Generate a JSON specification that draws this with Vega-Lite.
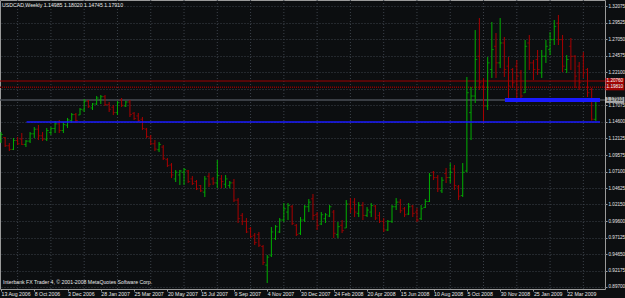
{
"$schema":"https://vega.github.io/schema/vega-lite/v6.json",
"width":605,"height":289,
"autosize":{"type":"none"},
"padding":{"left":0,"top":0,"right":20,"bottom":9},
"background":"#0c0e10",
"config":{"view":{"stroke":"#9a9a9a","strokeWidth":1,"fill":"#0c0e10"},"font":"Liberation Sans","axis":{"labelOverlap":false,"labelFlush":false,"labelBound":false,"labelSeparation":0},"axisY":{"labelOverlap":false},"axisRight":{"labelOverlap":false},"axisQuantitative":{"labelOverlap":false}},
"datasets":{
"bars":[
{"d":"2006-08-13","o":1.117,"h":1.1307,"l":1.1141,"c":1.127},
{"d":"2006-08-20","o":1.1225,"h":1.1232,"l":1.1081,"c":1.11},
{"d":"2006-08-27","o":1.11,"h":1.1141,"l":1.102,"c":1.1045},
{"d":"2006-09-03","o":1.1045,"h":1.1217,"l":1.1035,"c":1.118},
{"d":"2006-09-10","o":1.118,"h":1.1232,"l":1.1111,"c":1.113},
{"d":"2006-09-17","o":1.12,"h":1.1292,"l":1.1111,"c":1.112},
{"d":"2006-09-24","o":1.112,"h":1.1186,"l":1.1081,"c":1.117},
{"d":"2006-10-01","o":1.117,"h":1.1307,"l":1.1141,"c":1.128},
{"d":"2006-10-08","o":1.128,"h":1.1383,"l":1.1217,"c":1.135},
{"d":"2006-10-15","o":1.135,"h":1.1413,"l":1.1186,"c":1.125},
{"d":"2006-10-22","o":1.125,"h":1.1307,"l":1.1171,"c":1.12},
{"d":"2006-10-29","o":1.12,"h":1.1368,"l":1.1171,"c":1.133},
{"d":"2006-11-05","o":1.13,"h":1.1383,"l":1.1262,"c":1.136},
{"d":"2006-11-12","o":1.136,"h":1.1473,"l":1.1292,"c":1.143},
{"d":"2006-11-19","o":1.143,"h":1.1488,"l":1.1292,"c":1.133},
{"d":"2006-11-26","o":1.133,"h":1.1458,"l":1.1292,"c":1.142},
{"d":"2006-12-03","o":1.141,"h":1.1519,"l":1.1368,"c":1.149},
{"d":"2006-12-10","o":1.148,"h":1.1594,"l":1.1443,"c":1.157},
{"d":"2006-12-17","o":1.157,"h":1.1594,"l":1.1443,"c":1.148},
{"d":"2006-12-24","o":1.1565,"h":1.1669,"l":1.1563,"c":1.165},
{"d":"2006-12-31","o":1.164,"h":1.1805,"l":1.1609,"c":1.177},
{"d":"2007-01-07","o":1.177,"h":1.179,"l":1.1669,"c":1.169},
{"d":"2007-01-14","o":1.167,"h":1.1744,"l":1.1639,"c":1.173},
{"d":"2007-01-21","o":1.173,"h":1.185,"l":1.1714,"c":1.182},
{"d":"2007-01-28","o":1.179,"h":1.1865,"l":1.1729,"c":1.184},
{"d":"2007-02-04","o":1.184,"h":1.1865,"l":1.1699,"c":1.172},
{"d":"2007-02-11","o":1.172,"h":1.176,"l":1.1609,"c":1.165},
{"d":"2007-02-18","o":1.168,"h":1.1714,"l":1.1563,"c":1.16},
{"d":"2007-02-25","o":1.16,"h":1.1775,"l":1.1563,"c":1.175},
{"d":"2007-03-04","o":1.179,"h":1.182,"l":1.1684,"c":1.171},
{"d":"2007-03-11","o":1.17,"h":1.1775,"l":1.1684,"c":1.176},
{"d":"2007-03-18","o":1.176,"h":1.179,"l":1.1533,"c":1.157},
{"d":"2007-03-25","o":1.159,"h":1.1609,"l":1.1488,"c":1.151},
{"d":"2007-04-01","o":1.155,"h":1.1594,"l":1.1458,"c":1.148},
{"d":"2007-04-08","o":1.15,"h":1.1533,"l":1.1337,"c":1.136},
{"d":"2007-04-15","o":1.135,"h":1.1368,"l":1.1217,"c":1.124},
{"d":"2007-04-22","o":1.123,"h":1.1262,"l":1.1111,"c":1.113},
{"d":"2007-04-29","o":1.113,"h":1.1186,"l":1.102,"c":1.105},
{"d":"2007-05-06","o":1.104,"h":1.1156,"l":1.1005,"c":1.112},
{"d":"2007-05-13","o":1.108,"h":1.1111,"l":1.0885,"c":1.091},
{"d":"2007-05-20","o":1.089,"h":1.0915,"l":1.0779,"c":1.08},
{"d":"2007-05-27","o":1.081,"h":1.0839,"l":1.0613,"c":1.066},
{"d":"2007-06-03","o":1.06,"h":1.0734,"l":1.0553,"c":1.07},
{"d":"2007-06-10","o":1.066,"h":1.0734,"l":1.0508,"c":1.072},
{"d":"2007-06-17","o":1.07,"h":1.0764,"l":1.0508,"c":1.074},
{"d":"2007-06-24","o":1.072,"h":1.0734,"l":1.0538,"c":1.056},
{"d":"2007-07-01","o":1.06,"h":1.0643,"l":1.0508,"c":1.053},
{"d":"2007-07-08","o":1.056,"h":1.0583,"l":1.0432,"c":1.045},
{"d":"2007-07-15","o":1.05,"h":1.0508,"l":1.0402,"c":1.042},
{"d":"2007-07-22","o":1.04,"h":1.0643,"l":1.0327,"c":1.06},
{"d":"2007-07-29","o":1.064,"h":1.0688,"l":1.0477,"c":1.052},
{"d":"2007-08-05","o":1.06,"h":1.0628,"l":1.0508,"c":1.054},
{"d":"2007-08-12","o":1.054,"h":1.0885,"l":1.0462,"c":1.065},
{"d":"2007-08-19","o":1.06,"h":1.0658,"l":1.0462,"c":1.056},
{"d":"2007-08-26","o":1.052,"h":1.0658,"l":1.0462,"c":1.06},
{"d":"2007-09-02","o":1.05,"h":1.0568,"l":1.0462,"c":1.054},
{"d":"2007-09-09","o":1.054,"h":1.0598,"l":1.0251,"c":1.028},
{"d":"2007-09-16","o":1.028,"h":1.0311,"l":0.9935,"c":1.0},
{"d":"2007-09-23","o":1.005,"h":1.0085,"l":0.9904,"c":0.996},
{"d":"2007-09-30","o":0.996,"h":1.001,"l":0.9784,"c":0.98},
{"d":"2007-10-07","o":0.985,"h":0.9874,"l":0.9708,"c":0.973},
{"d":"2007-10-14","o":0.975,"h":0.9784,"l":0.9603,"c":0.964},
{"d":"2007-10-21","o":0.976,"h":0.9799,"l":0.9573,"c":0.96},
{"d":"2007-10-28","o":0.958,"h":0.9603,"l":0.9301,"c":0.934},
{"d":"2007-11-04","o":0.93,"h":0.9452,"l":0.903,"c":0.942},
{"d":"2007-11-11","o":0.945,"h":0.9874,"l":0.9422,"c":0.98},
{"d":"2007-11-18","o":0.97,"h":0.9904,"l":0.9678,"c":0.988},
{"d":"2007-11-25","o":0.98,"h":1.001,"l":0.9784,"c":0.998},
{"d":"2007-12-02","o":0.998,"h":1.0236,"l":0.995,"c":1.015},
{"d":"2007-12-09","o":1.01,"h":1.0236,"l":0.998,"c":1.02},
{"d":"2007-12-16","o":1.018,"h":1.0206,"l":0.9904,"c":0.993},
{"d":"2007-12-23","o":0.99,"h":0.9919,"l":0.9739,"c":0.976},
{"d":"2007-12-30","o":0.978,"h":1.0025,"l":0.9754,"c":0.998},
{"d":"2008-01-06","o":0.998,"h":1.0206,"l":0.995,"c":1.018},
{"d":"2008-01-13","o":1.018,"h":1.0296,"l":1.01,"c":1.025},
{"d":"2008-01-20","o":1.03,"h":1.0372,"l":0.998,"c":1.005},
{"d":"2008-01-27","o":1.006,"h":1.01,"l":0.9829,"c":0.99},
{"d":"2008-02-03","o":0.992,"h":1.01,"l":0.9904,"c":1.006},
{"d":"2008-02-10","o":1.0,"h":1.0085,"l":0.9935,"c":1.006},
{"d":"2008-02-17","o":1.004,"h":1.0206,"l":1.0025,"c":1.018},
{"d":"2008-02-24","o":1.01,"h":1.0131,"l":0.9708,"c":0.978},
{"d":"2008-03-02","o":0.976,"h":0.995,"l":0.9708,"c":0.988},
{"d":"2008-03-09","o":0.99,"h":0.998,"l":0.9784,"c":0.982},
{"d":"2008-03-16","o":0.986,"h":1.0281,"l":0.9859,"c":1.022},
{"d":"2008-03-23","o":1.022,"h":1.0311,"l":1.0085,"c":1.015},
{"d":"2008-03-30","o":1.025,"h":1.0311,"l":1.0025,"c":1.01},
{"d":"2008-04-06","o":1.008,"h":1.0251,"l":1.0025,"c":1.02},
{"d":"2008-04-13","o":1.02,"h":1.0251,"l":0.998,"c":1.005},
{"d":"2008-04-20","o":1.005,"h":1.0176,"l":1.0025,"c":1.013},
{"d":"2008-04-27","o":1.01,"h":1.0236,"l":1.0025,"c":1.02},
{"d":"2008-05-04","o":1.019,"h":1.0206,"l":0.998,"c":1.001},
{"d":"2008-05-11","o":1.005,"h":1.01,"l":0.9935,"c":0.996},
{"d":"2008-05-18","o":0.996,"h":1.001,"l":0.9799,"c":0.983},
{"d":"2008-05-25","o":0.983,"h":0.998,"l":0.9814,"c":0.996},
{"d":"2008-06-01","o":0.996,"h":1.0206,"l":0.9935,"c":1.018},
{"d":"2008-06-08","o":1.018,"h":1.0311,"l":1.0131,"c":1.025},
{"d":"2008-06-15","o":1.025,"h":1.0296,"l":1.0085,"c":1.012},
{"d":"2008-06-22","o":1.015,"h":1.0176,"l":1.0025,"c":1.006},
{"d":"2008-06-29","o":1.007,"h":1.0236,"l":1.0055,"c":1.018},
{"d":"2008-07-06","o":1.019,"h":1.0206,"l":1.0025,"c":1.008},
{"d":"2008-07-13","o":1.01,"h":1.0161,"l":0.995,"c":0.998},
{"d":"2008-07-20","o":1.0,"h":1.0206,"l":0.998,"c":1.015},
{"d":"2008-07-27","o":1.017,"h":1.0296,"l":1.0161,"c":1.026},
{"d":"2008-08-03","o":1.026,"h":1.0688,"l":1.0251,"c":1.065},
{"d":"2008-08-10","o":1.07,"h":1.0719,"l":1.0583,"c":1.062},
{"d":"2008-08-17","o":1.062,"h":1.0658,"l":1.0402,"c":1.045},
{"d":"2008-08-24","o":1.042,"h":1.0628,"l":1.0387,"c":1.058},
{"d":"2008-08-31","o":1.068,"h":1.0764,"l":1.0538,"c":1.062},
{"d":"2008-09-07","o":1.062,"h":1.0839,"l":1.0538,"c":1.07},
{"d":"2008-09-14","o":1.075,"h":1.0809,"l":1.0432,"c":1.05},
{"d":"2008-09-21","o":1.048,"h":1.0508,"l":1.0281,"c":1.034},
{"d":"2008-09-28","o":1.035,"h":1.0839,"l":1.0327,"c":1.07},
{"d":"2008-10-05","o":1.072,"h":1.2137,"l":1.07,"c":1.19},
{"d":"2008-10-12","o":1.16,"h":1.1986,"l":1.1186,"c":1.185},
{"d":"2008-10-19","o":1.185,"h":1.2845,"l":1.1744,"c":1.24},
{"d":"2008-10-26","o":1.245,"h":1.3026,"l":1.1941,"c":1.205},
{"d":"2008-11-02","o":1.2,"h":1.2122,"l":1.1443,"c":1.17},
{"d":"2008-11-09","o":1.17,"h":1.2438,"l":1.1639,"c":1.235},
{"d":"2008-11-16","o":1.225,"h":1.2966,"l":1.2122,"c":1.255},
{"d":"2008-11-23","o":1.26,"h":1.28,"l":1.2122,"c":1.235},
{"d":"2008-11-30","o":1.235,"h":1.3026,"l":1.2272,"c":1.265},
{"d":"2008-12-07","o":1.265,"h":1.274,"l":1.2137,"c":1.225},
{"d":"2008-12-14","o":1.23,"h":1.2438,"l":1.179,"c":1.2},
{"d":"2008-12-21","o":1.225,"h":1.2272,"l":1.1971,"c":1.205},
{"d":"2008-12-28","o":1.23,"h":1.2393,"l":1.179,"c":1.215},
{"d":"2009-01-04","o":1.22,"h":1.2242,"l":1.176,"c":1.185},
{"d":"2009-01-11","o":1.19,"h":1.2695,"l":1.1896,"c":1.26},
{"d":"2009-01-18","o":1.265,"h":1.277,"l":1.2242,"c":1.235},
{"d":"2009-01-25","o":1.235,"h":1.2393,"l":1.2091,"c":1.225},
{"d":"2009-02-01","o":1.24,"h":1.2544,"l":1.2167,"c":1.225},
{"d":"2009-02-08","o":1.22,"h":1.2544,"l":1.2122,"c":1.245},
{"d":"2009-02-15","o":1.245,"h":1.2695,"l":1.2348,"c":1.26},
{"d":"2009-02-22","o":1.255,"h":1.2815,"l":1.2468,"c":1.27},
{"d":"2009-03-01","o":1.27,"h":1.2996,"l":1.2619,"c":1.29},
{"d":"2009-03-08","o":1.295,"h":1.3072,"l":1.2619,"c":1.27},
{"d":"2009-03-15","o":1.27,"h":1.277,"l":1.2212,"c":1.23},
{"d":"2009-03-22","o":1.225,"h":1.2468,"l":1.2197,"c":1.24},
{"d":"2009-03-29","o":1.26,"h":1.2725,"l":1.2242,"c":1.245},
{"d":"2009-04-05","o":1.245,"h":1.2468,"l":1.1971,"c":1.215},
{"d":"2009-04-12","o":1.23,"h":1.2363,"l":1.1941,"c":1.205},
{"d":"2009-04-19","o":1.245,"h":1.2514,"l":1.2122,"c":1.22},
{"d":"2009-04-26","o":1.225,"h":1.2272,"l":1.1835,"c":1.19},
{"d":"2009-05-03","o":1.195,"h":1.1971,"l":1.148,"c":1.15},
{"d":"2009-05-10","o":1.14985,"h":1.1802,"l":1.14745,"c":1.1791}
],
"vgrid":[{"d":"2006-09-10"},{"d":"2006-11-05"},{"d":"2006-12-31"},{"d":"2007-02-25"},{"d":"2007-04-22"},{"d":"2007-06-17"},{"d":"2007-08-12"},{"d":"2007-10-07"},{"d":"2007-12-02"},{"d":"2008-01-27"},{"d":"2008-03-23"},{"d":"2008-05-18"},{"d":"2008-07-13"},{"d":"2008-09-07"},{"d":"2008-11-02"},{"d":"2008-12-28"},{"d":"2009-02-22"},{"d":"2009-04-19"}]
},
"encoding":{
"x":{"field":"d","type":"temporal","scale":{"type":"utc","domain":[{"year":2006,"month":8,"date":11,"hours":8,"utc":true},{"year":2009,"month":5,"date":25,"hours":10,"utc":true}]},
"axis":{"orient":"bottom","title":null,"grid":false,"domain":false,"format":"%-d %b %Y","labelAlign":"left","labelFontSize":5.2,"labelColor":"#e6e6e6","tickColor":"#9a9a9a","tickSize":2,"labelPadding":0,"labelOverlap":false,"labelFlush":false,"labelBound":false,
"values":[{"year":2006,"month":8,"date":13,"utc":true},{"year":2006,"month":10,"date":8,"utc":true},{"year":2006,"month":12,"date":3,"utc":true},{"year":2007,"month":1,"date":28,"utc":true},{"year":2007,"month":3,"date":25,"utc":true},{"year":2007,"month":5,"date":20,"utc":true},{"year":2007,"month":7,"date":15,"utc":true},{"year":2007,"month":9,"date":9,"utc":true},{"year":2007,"month":11,"date":4,"utc":true},{"year":2007,"month":12,"date":30,"utc":true},{"year":2008,"month":2,"date":24,"utc":true},{"year":2008,"month":4,"date":20,"utc":true},{"year":2008,"month":6,"date":15,"utc":true},{"year":2008,"month":8,"date":10,"utc":true},{"year":2008,"month":10,"date":5,"utc":true},{"year":2008,"month":11,"date":30,"utc":true},{"year":2009,"month":1,"date":25,"utc":true},{"year":2009,"month":3,"date":22,"utc":true}]}}
},
"layer":[
{"data":{"name":"vgrid"},"mark":{"type":"rule","color":"#3c424a","strokeDash":[1,2],"strokeWidth":1},"encoding":{}},
{"data":{"values":[{"p":1.2076}]},"mark":{"type":"rule","color":"#a00000","strokeWidth":1},
 "encoding":{"x":null,"y":{"field":"p","type":"quantitative","scale":{"domain":[0.89397,1.3298],"nice":false,"zero":false},
 "axis":{"orient":"right","title":null,"domain":false,"grid":true,"gridColor":"#3c424a","gridDash":[1,2],"gridWidth":1,"format":".5f","labelExpr":"abs(datum.value - 1.1955) < 0.0001 ? '' : datum.label","labelFontSize":4.6,"labelColor":"#e6e6e6","tickColor":"#9a9a9a","tickSize":2,"labelPadding":1,"labelOverlap":false,"labelSeparation":0,"labelFlush":false,"labelBound":false,"tickCount":18,
 "values":[0.897,0.92175,0.9465,0.97125,0.996,1.0215,1.04625,1.071,1.09575,1.12125,1.146,1.17075,1.1955,1.221,1.24575,1.2705,1.29525,1.32075]}}}},
{"data":{"values":[{"p":1.1981}]},"mark":{"type":"rule","color":"#8c0000","strokeWidth":1.5,"strokeDash":[1,1]},"encoding":{"x":null,"y":{"field":"p","type":"quantitative"}}},
{"data":{"values":[{"p":1.1791}]},"mark":{"type":"rule","color":"#4a4f56","strokeWidth":1.5},"encoding":{"x":null,"y":{"field":"p","type":"quantitative"}}},
{"data":{"name":"bars"},"mark":{"type":"rule","strokeWidth":1},
 "encoding":{"y":{"field":"l","type":"quantitative"},"y2":{"field":"h"},
 "color":{"condition":{"test":"datum.c >= datum.o","value":"#00b000"},"value":"#a80000"}}},
{"data":{"name":"bars"},"mark":{"type":"tick","orient":"horizontal","size":2,"thickness":1,"xOffset":-1},
 "encoding":{"y":{"field":"o","type":"quantitative"},
 "color":{"condition":{"test":"datum.c >= datum.o","value":"#00b000"},"value":"#a80000"}}},
{"data":{"name":"bars"},"mark":{"type":"tick","orient":"horizontal","size":2,"thickness":1,"xOffset":1},
 "encoding":{"y":{"field":"c","type":"quantitative"},
 "color":{"condition":{"test":"datum.c >= datum.o","value":"#00b000"},"value":"#a80000"}}},
{"data":{"values":[{"s":"2006-09-25","e":"2009-05-17","p":1.146}]},"mark":{"type":"rule","color":"#1a1aff","strokeWidth":1.5},
 "encoding":{"x":{"field":"s","type":"temporal"},"x2":{"field":"e"},"y":{"field":"p","type":"quantitative"}}},
{"data":{"values":[{"s":"2008-12-08","e":"2009-05-17","p":1.1791}]},"mark":{"type":"rule","color":"#1a1aff","strokeWidth":4},
 "encoding":{"x":{"field":"s","type":"temporal"},"x2":{"field":"e"},"y":{"field":"p","type":"quantitative"}}},
{"data":{"values":[{"d":"2009-06-11","p":1.2076},{"d":"2009-06-11","p":1.1981}]},"mark":{"type":"tick","orient":"horizontal","size":19,"thickness":6,"color":"#e00000"},
 "encoding":{"y":{"field":"p","type":"quantitative"}}},
{"data":{"values":[{"d":"2009-06-11","p":1.1791}]},"mark":{"type":"tick","orient":"horizontal","size":19,"thickness":6,"color":"#f0f0f0"},
 "encoding":{"y":{"field":"p","type":"quantitative"}}},
{"data":{"values":[{"d":"2009-06-11","p":1.2076,"t":"1.20760"},{"d":"2009-06-11","p":1.1981,"t":"1.19810"}]},"mark":{"type":"text","fontSize":4.6,"align":"center","baseline":"middle","color":"#ffffff"},
 "encoding":{"y":{"field":"p","type":"quantitative"},"text":{"field":"t"}}},
{"data":{"values":[{"d":"2009-06-11","p":1.1791,"t":"1.17910"}]},"mark":{"type":"text","fontSize":4.6,"align":"center","baseline":"middle","color":"#000000"},
 "encoding":{"y":{"field":"p","type":"quantitative"},"text":{"field":"t"}}},
{"data":{"values":[{"d":"2006-08-11T08:00:00Z","p":1.3223,"t":"USDCAD,Weekly  1.14985 1.18020 1.14745 1.17910"}]},"mark":{"type":"text","fontSize":5.2,"align":"left","baseline":"middle","dx":2,"color":"#e6e6e6"},
 "encoding":{"y":{"field":"p","type":"quantitative"},"text":{"field":"t"}}},
{"data":{"values":[{"d":"2006-08-11T08:00:00Z","p":0.9045,"t":"Interbank FX Trader 4, © 2001-2008 MetaQuotes Software Corp."}]},"mark":{"type":"text","fontSize":5.2,"align":"left","baseline":"middle","dx":3,"color":"#e6e6e6"},
 "encoding":{"y":{"field":"p","type":"quantitative"},"text":{"field":"t"}}}
]
}
